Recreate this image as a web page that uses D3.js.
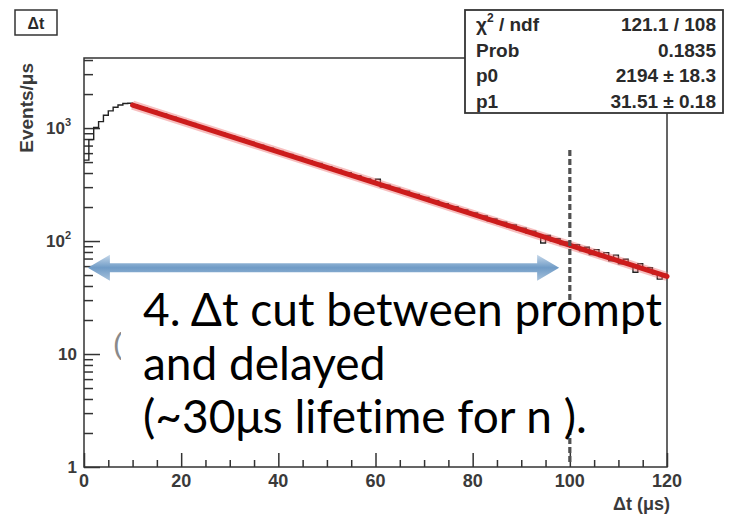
<!DOCTYPE html>
<html><head><meta charset="utf-8">
<script src="https://cdn.jsdelivr.net/npm/d3@7/dist/d3.min.js"></script>
<style>
html,body{margin:0;padding:0;background:#fff;}
svg{display:block;}
text{font-variant-ligatures:none;}
</style></head>
<body>
<svg id="c" width="730" height="515"></svg>
<script>
// ---------- data ----------
const binStart = d3.range(0, 120, 1); // 1 µs bins (0..119)
const counts = [520,790,1010,1140,1300,1420,1530,1600,1650,1660,
 1610,1540,1510,1440,1420,1350,1330,1270,1250,1190,
 1170,1120,1100,1050,1030,985,965,920,910,865,
 850,815,800,760,750,715,705,670,665,630,
 620,590,585,552,550,520,515,487,485,455,
 455,428,426,400,402,376,378,352,354,330,
 352,300,312,292,293,272,276,255,258,240,
 243,224,228,210,214,197,201,184,188,174,
 177,162,167,151,157,143,147,134,139,125,
 130,117,122,111,96,112,100,105,93,98,
 88,93,82,88,76,84,73,79,67,75,
 63,69,62,53,63,55,58,51,46,51];
const fitT = [10, 120];
const fitY = [1597, 48.6];
const cutT = 100;
const arrowT = [0.8, 97.8];
const arrowY = 58;
const xMajor = [0,20,40,60,80,100,120];
const xMinor = d3.range(0,121,5).filter(v=>v%20!==0);
const yMajor = [1,10,100,1000];
const yMajorLabels = [["1",""],["10",""],["10","2"],["10","3"]];
const yMinor = [2,3,4,5,6,7,8,9,20,30,40,50,60,70,80,90,200,300,400,500,600,700,800,900,2000,3000,4000];
const statLabels = [["χ","2"," / ndf"],["Prob","",""],["p0","",""],["p1","",""]];
const statValues = ["121.1 / 108","0.1835","2194 ± 18.3","31.51 ± 0.18"];
const histTitle = "Δt";
const yTitle = "Events/μs";
const xTitle = "Δt (μs)";
const noteLines = ["4. Δt cut between prompt","and delayed","(~30μs lifetime for n )."];

// ---------- layout ----------
const svg = d3.select("#c");
const L=84, R=667, T=58, B=467;
const x = d3.scaleLinear([0,120],[L,R]);
const y = d3.scaleLog([1,4170],[B,T]);
const axisFont = "'Liberation Sans', Arial, sans-serif";
const axCol = "#3a3a3a";

// frame
svg.append("rect").attr("x",L).attr("y",T).attr("width",R-L).attr("height",B-T)
  .attr("fill","none").attr("stroke","#333").attr("stroke-width",1.5);

// x axis ticks
const gx = svg.append("g").attr("transform",`translate(0,${B})`);
gx.call(d3.axisBottom(x).tickValues(xMajor).tickSize(-14).tickFormat(""));
gx.append("g").call(d3.axisBottom(x).tickValues(xMinor).tickSize(-7).tickFormat(""));
gx.selectAll(".domain").remove();
gx.selectAll("line").attr("stroke","#333").attr("stroke-width",1.5);
svg.append("g").selectAll("text").data(xMajor).join("text")
  .attr("x",d=>x(d)).attr("y",B+20).attr("text-anchor","middle")
  .attr("font-family",axisFont).attr("font-weight","bold").attr("font-size",18)
  .attr("fill",axCol).text(d=>d);

// y axis ticks
const gy = svg.append("g").attr("transform",`translate(${L},0)`);
gy.call(d3.axisLeft(y).tickValues(yMajor).tickSize(-16).tickFormat(""));
gy.append("g").call(d3.axisLeft(y).tickValues(yMinor).tickSize(-9).tickFormat(""));
gy.selectAll(".domain").remove();
gy.selectAll("line").attr("stroke","#333").attr("stroke-width",1.5);
const yl = svg.append("g").selectAll("text").data(yMajor).join("text")
  .attr("x",(d,i)=> yMajorLabels[i][1] ? 71 : 77)
  .attr("y",d=>y(d)+6).attr("text-anchor","end")
  .attr("font-family",axisFont).attr("font-weight","bold").attr("font-size",17)
  .attr("fill",axCol);
yl.each(function(d,i){
  const t=d3.select(this);
  t.append("tspan").text(yMajorLabels[i][0]);
  if(yMajorLabels[i][1]) t.append("tspan").attr("font-size",11).attr("dy",-8).text(yMajorLabels[i][1]);
});

// axis titles
svg.append("text").attr("transform",`translate(33,${T+5}) rotate(-90)`)
  .attr("text-anchor","end").attr("font-family",axisFont).attr("font-weight","bold")
  .attr("font-size",19).attr("fill",axCol).text(yTitle);
svg.append("text").attr("x",R+3).attr("y",510).attr("text-anchor","end")
  .attr("font-family",axisFont).attr("font-weight","bold")
  .attr("font-size",18).attr("fill",axCol).text(xTitle);

// histogram (step)
const stepPts = [];
binStart.forEach((t,i)=>{ stepPts.push([x(t),y(counts[i])]); stepPts.push([x(t+1),y(counts[i])]); });
svg.append("path").attr("d",d3.line()(stepPts)).attr("fill","none")
  .attr("stroke","#222").attr("stroke-width",1.4);

// fit line
const fitPts = fitT.map((t,i)=>[x(t),y(fitY[i])]);
svg.append("path").attr("d",d3.line()(fitPts)).attr("stroke","#ee7070").attr("stroke-opacity",0.45)
  .attr("stroke-width",9).attr("fill","none");
svg.append("path").attr("d",d3.line()(fitPts)).attr("stroke","#cc1c1c")
  .attr("stroke-width",5).attr("fill","none").attr("stroke-linecap","round");

// dashed cut line
svg.append("line").attr("x1",x(cutT)).attr("x2",x(cutT)).attr("y1",150).attr("y2",B-2)
  .attr("stroke","#505050").attr("stroke-width",3.2).attr("stroke-dasharray","6,3");

// stats box
const sx0=465, sx1=723, sy0=10, sy1=113;
svg.append("rect").attr("x",sx0).attr("y",sy0).attr("width",sx1-sx0).attr("height",sy1-sy0)
  .attr("fill","#fff").attr("stroke","#333").attr("stroke-width",1.8);
const rowH = (sy1-sy0)/statLabels.length;
statLabels.forEach((lab,i)=>{
  const by = sy0 + rowH*(i+1) - 5;
  const t = svg.append("text").attr("x",476).attr("y",by).attr("font-family",axisFont)
    .attr("font-weight","bold").attr("font-size",19).attr("fill","#2a2a2a");
  t.append("tspan").text(lab[0]);
  if(lab[1]) t.append("tspan").attr("font-size",12).attr("dy",-9).text(lab[1]);
  if(lab[2]) t.append("tspan").attr("dy",lab[1]?9:0).text(lab[2]);
  svg.append("text").attr("x",716).attr("y",by).attr("text-anchor","end").attr("font-family",axisFont)
    .attr("font-weight","bold").attr("font-size",19).attr("fill","#2a2a2a").text(statValues[i]);
});

// title box
svg.append("rect").attr("x",15).attr("y",10).attr("width",42).attr("height",25)
  .attr("fill","#fff").attr("stroke","#333").attr("stroke-width",1.5);
svg.append("text").attr("x",36).attr("y",29).attr("text-anchor","middle").attr("font-family",axisFont)
  .attr("font-weight","bold").attr("font-size",16).attr("fill","#2a2a2a").text(histTitle);

// blue double arrow
const defs = svg.append("defs");
const gr = defs.append("linearGradient").attr("id","ag").attr("x1",0).attr("x2",0).attr("y1",0).attr("y2",1);
gr.append("stop").attr("offset","0%").attr("stop-color","#c6d8ea");
gr.append("stop").attr("offset","50%").attr("stop-color","#6f9bc6");
gr.append("stop").attr("offset","100%").attr("stop-color","#a9c3dc");
const ax0=x(arrowT[0]), ax1=x(arrowT[1]), ay=y(arrowY);
const hl=22, hh=13, sh=4.5;
svg.append("path").attr("fill","url(#ag)")
  .attr("d",`M${ax0},${ay} L${ax0+hl},${ay-hh} L${ax0+hl},${ay-sh} L${ax1-hl},${ay-sh} L${ax1-hl},${ay-hh} L${ax1},${ay} L${ax1-hl},${ay+hh} L${ax1-hl},${ay+sh} L${ax0+hl},${ay+sh} L${ax0+hl},${ay+hh} Z`);

// partially hidden glyph
svg.append("text").attr("x",113).attr("y",354).attr("font-family","'Liberation Sans',sans-serif")
  .attr("font-size",30).attr("fill","#8a8a8a").text("(");

// annotation box
svg.append("rect").attr("x",121).attr("y",300).attr("width",544).attr("height",130).attr("fill","#fff");
const noteFont = "Lato, 'Open Sans', sans-serif";
const nt = svg.append("g");
const baselines = [326, 380, 433];
noteLines.forEach((s,i)=>{
  nt.append("text").attr("x",143).attr("y",baselines[i]).attr("font-family",noteFont)
    .attr("font-size",42).attr("fill","#000").text(s);
});
// fit font size so the first line spans the reference width
const w0 = nt.select("text").node().getComputedTextLength();
const fs = 42*519/w0;
nt.selectAll("text").attr("font-size",fs);
</script>
</body></html>
